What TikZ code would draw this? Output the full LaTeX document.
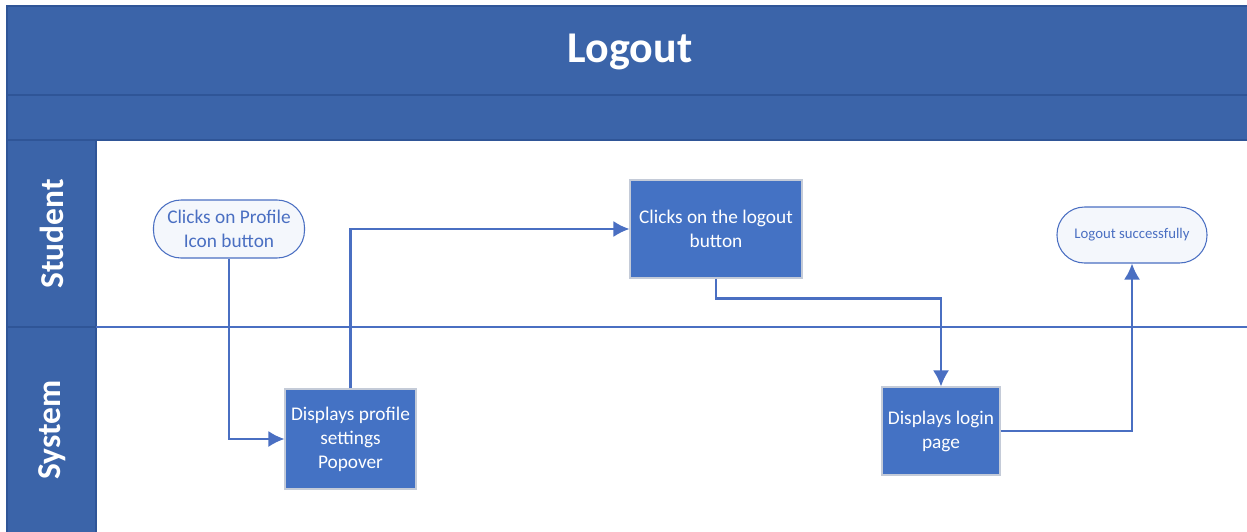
\documentclass[tikz,border=0pt]{standalone}
\usepackage{fontspec}
\setmainfont{Carlito}
\usetikzlibrary{arrows.meta}
\definecolor{headblue}{HTML}{3B64A9}
\definecolor{headline}{HTML}{2F5597}
\definecolor{boxblue}{HTML}{4472C4}
\definecolor{flowblue}{HTML}{4A6FC2}
\definecolor{termfill}{HTML}{F4F7FC}
\definecolor{boxedge}{HTML}{C4CBD8}

\begin{document}
\begin{tikzpicture}[
  band/.style={fill=headblue, draw=headline, line width=0.6pt},
  lanetext/.style={text=white, font=\fontsize{19}{22}\selectfont\bfseries, rotate=90},
  terminal/.style={draw=flowblue, fill=termfill, line width=0.6pt, rounded corners=0.55cm,
                   text=flowblue, align=center, inner sep=0pt},
  process/.style={draw=boxedge, fill=boxblue, line width=0.6pt, text=white, align=center,
                  inner sep=0pt, font=\fontsize{11}{13.6}\selectfont},
  flow/.style={draw=flowblue, line width=1.2pt, ->, >={Latex[length=0.32cm,width=0.32cm]}}
]

\useasboundingbox (0,0) rectangle (24.94,-10.62);

\fill[white] (0,0) rectangle (24.94,-10.62);

\draw[band] (0.14,-0.12) rectangle (25.2,-1.90);
\draw[band] (0.14,-1.90) rectangle (25.2,-2.80);
\draw[band] (0.14,-2.80) rectangle (1.92,-6.54);
\draw[band] (0.14,-6.54) rectangle (1.92,-10.8);
\draw[flowblue, line width=1.1pt] (1.92,-6.54) -- (25.2,-6.54);

\node[text=white, font=\fontsize{25}{30}\selectfont\bfseries] (title) at (12.6,-1.04) {Logout};
\node[lanetext] (student) at (1.04,-4.68) {Student};
\node[lanetext] (system) at (1.04,-8.60) {System};

\node[terminal, minimum width=3.02cm, minimum height=1.16cm, font=\fontsize{11}{13.6}\selectfont]
  (profile) at (4.58,-4.58) {Clicks on Profile\\Icon button};
\node[process, minimum width=2.62cm, minimum height=2.0cm] (popover) at (7.01,-8.78)
  {Displays profile\\settings\\Popover};
\node[process, minimum width=3.44cm, minimum height=1.96cm] (logout) at (14.32,-4.58)
  {Clicks on the logout\\button};
\node[process, minimum width=2.36cm, minimum height=1.76cm] (login) at (18.82,-8.62)
  {Displays login\\page};
\node[terminal, minimum width=3.0cm, minimum height=1.12cm, font=\fontsize{8.4}{10}\selectfont]
  (done) at (22.64,-4.70) {Logout successfully};

\draw[flow] (profile) |- (popover);
\draw[flow] (popover) |- (logout);
\draw[flow] (logout.south) -- ++(0,-0.40) -| (login.north);
\draw[flow] (login) -| (done);

\end{tikzpicture}
\end{document}
